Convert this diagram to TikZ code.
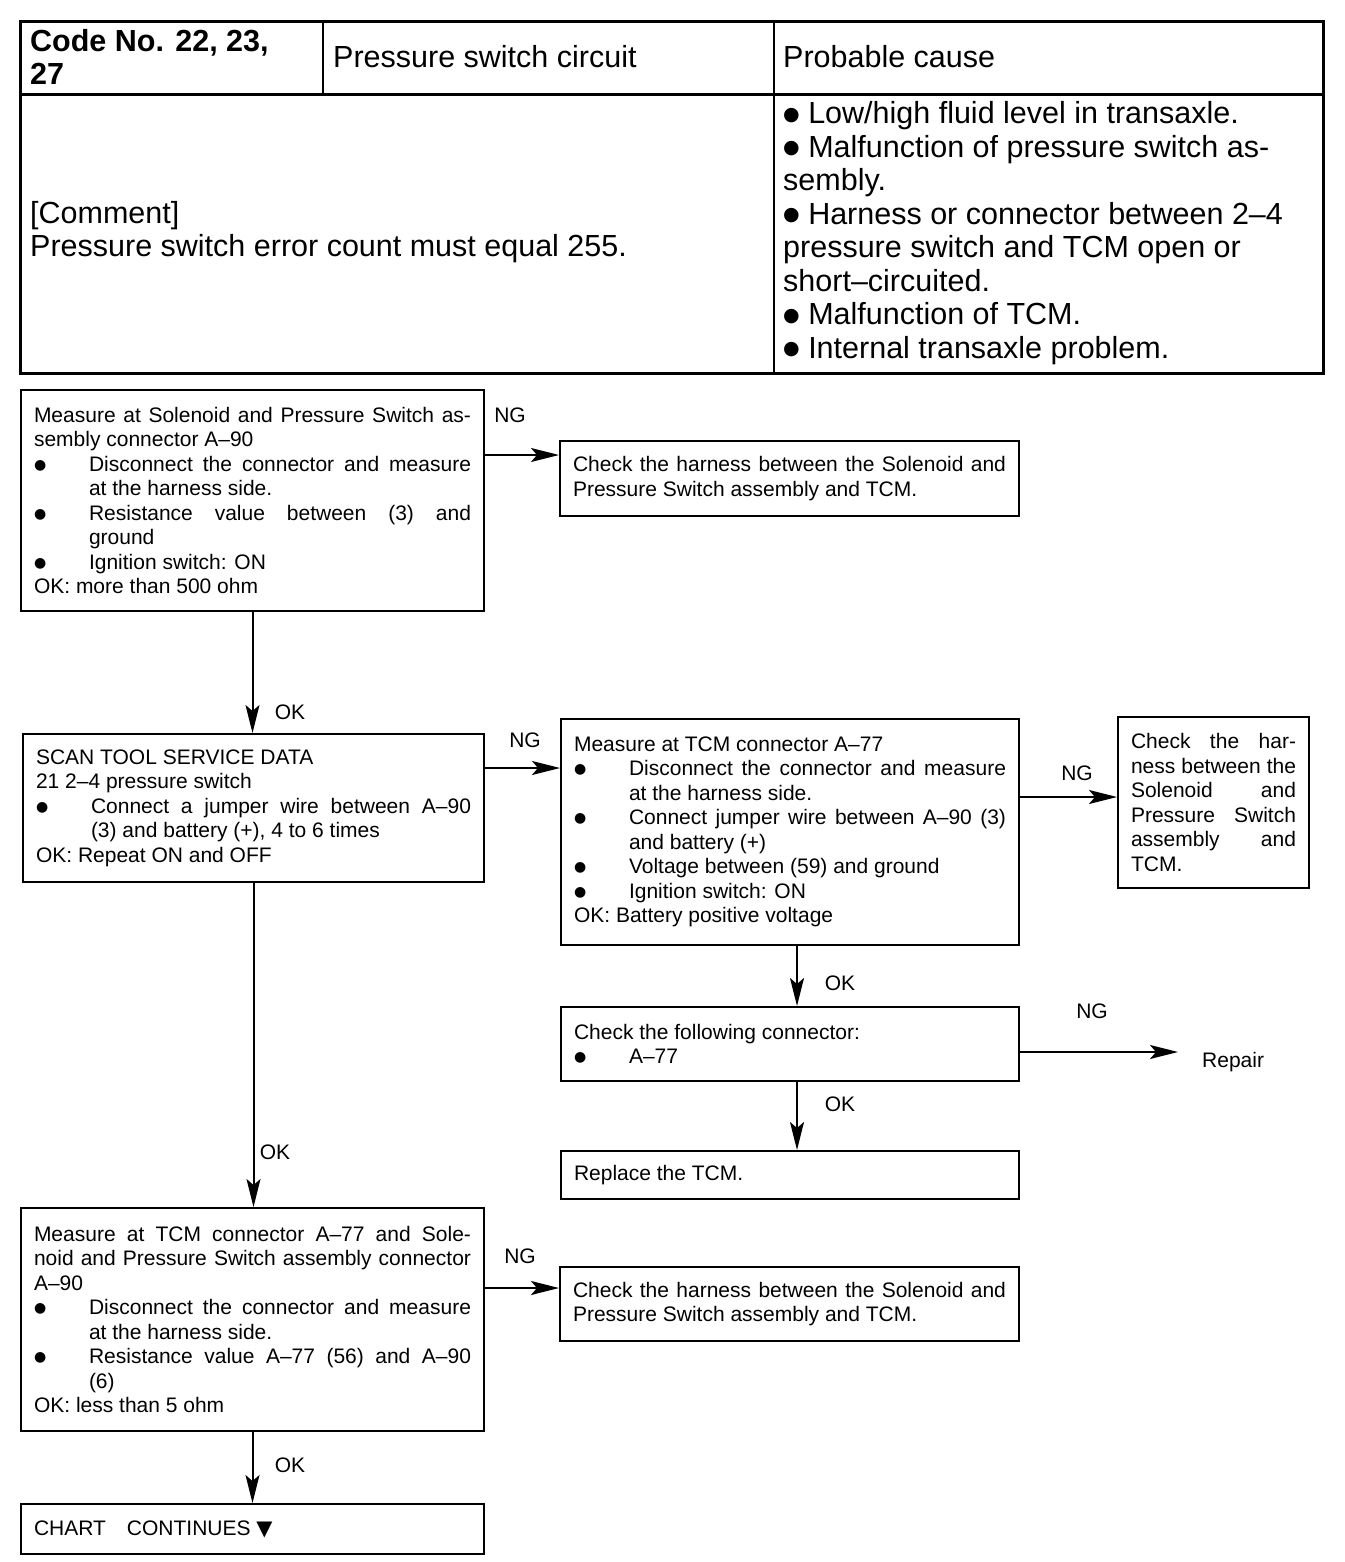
\documentclass[tikz,border=0pt]{standalone}
\usepackage{fontspec}
\setmainfont{Liberation Sans}
\newfontfamily\symfont{DejaVu Sans}
\usetikzlibrary{arrows.meta}
\setlength{\parindent}{0pt}
\hyphenpenalty=10000
\tolerance=10000

% big round bullets as in the scan
\newcommand{\bdot}{\raisebox{2pt}{\symfont\fontsize{14}{14}\selectfont ●}}
\newcommand{\tdot}{\raisebox{3.5pt}{\symfont\fontsize{19}{19}\selectfont ●}}
% bullet item with hanging indent
\newcommand{\itm}{\par\hangindent=55pt\hangafter=1\makebox[55pt][l]{\bdot}}

\tikzset{
    tbl/.style={inner sep=0pt, anchor=west, align=left, font=\fontsize{30.5}{33.5}\selectfont},
    box/.style={draw, line width=2pt, anchor=north west, inner xsep=13pt, inner ysep=3pt,
        align=justify, font=\fontsize{21}{24.5}\selectfont},
    lbl/.style={inner sep=0pt, font=\fontsize{21}{24.5}\selectfont},
    flow/.style={line width=2pt, -{Stealth[length=28pt,width=14pt,inset=6pt]}},
}

\begin{document}
\begin{tikzpicture}[x=1pt, y=-1pt]
    \useasboundingbox (0,0) rectangle (1344,1562);

    % Header table
    \draw[line width=3pt] (20,22) rectangle (1323,373);
    \draw[line width=3pt] (20,95) -- (1323,95);
    \draw[line width=2pt] (774,22) -- (774,373);
    \draw[line width=1.5pt] (323,22) -- (323,95);

    \node[tbl, font=\fontsize{30.5}{33.5}\selectfont\bfseries] (code) at (30,57) {Code No. 22, 23,\\27};
    \node[tbl] (title) at (333,57) {Pressure switch circuit};
    \node[tbl] (cause) at (783,57) {Probable cause};
    \node[tbl] (comment) at (30,232) {[Comment]\\Pressure switch error count must equal 255.};
    \node[tbl] (causes) at (783,233) {\tdot{} Low/high fluid level in transaxle.\\
        \tdot{} Malfunction of pressure switch as-\\sembly.\\
        \tdot{} Harness or connector between 2--4\\pressure switch and TCM open or\\short--circuited.\\
        \tdot{} Malfunction of TCM.\\
        \tdot{} Internal transaxle problem.};

    % Flow chart boxes
    \node[box, text width=437pt, minimum height=221pt] (A) at (20,389) {Measure at Solenoid and Pressure Switch as-\linebreak sembly connector A--90
        \itm Disconnect the connector and measure\linebreak at the harness side.
        \itm Resistance value between (3) and\linebreak ground
        \itm Ignition switch: ON
        \par OK: more than 500 ohm};
    \node[box, text width=433pt, minimum height=75pt] (B) at (559,440) {Check the harness between the Solenoid and\linebreak Pressure Switch assembly and TCM.};
    \node[box, text width=435pt, minimum height=148pt] (C) at (22,733) {SCAN TOOL SERVICE DATA
        \par 21 2--4 pressure switch
        \itm Connect a jumper wire between A--90\linebreak (3) and battery (+), 4 to 6 times
        \par OK: Repeat ON and OFF};
    \node[box, text width=432pt, minimum height=226pt] (D) at (560,718) {Measure at TCM connector A--77
        \itm Disconnect the connector and measure\linebreak at the harness side.
        \itm Connect jumper wire between A--90 (3)\linebreak and battery (+)
        \itm Voltage between (59) and ground
        \itm Ignition switch: ON
        \par OK: Battery positive voltage};
    \node[box, text width=165pt, minimum height=171pt] (E) at (1117,716) {Check the har-\linebreak ness between the\linebreak Solenoid and\linebreak Pressure Switch\linebreak assembly and\linebreak TCM.};
    \node[box, text width=432pt, minimum height=74pt] (F) at (560,1006) {Check the following connector:
        \itm A--77};
    \node[box, text width=432pt, minimum height=48pt] (G) at (560,1150) {Replace the TCM.};
    \node[box, text width=437pt, minimum height=223pt] (H) at (20,1207) {Measure at TCM connector A--77 and Sole-\linebreak noid and Pressure Switch assembly connector\linebreak A--90
        \itm Disconnect the connector and measure\linebreak at the harness side.
        \itm Resistance value A--77 (56) and A--90\linebreak (6)
        \par OK: less than 5 ohm};
    \node[box, text width=433pt, minimum height=74pt] (I) at (559,1266) {Check the harness between the Solenoid and\linebreak Pressure Switch assembly and TCM.};
    \node[box, text width=437pt, minimum height=50pt] (J) at (20,1503) {CHART\quad CONTINUES {\symfont ▼}};
    \node[lbl, anchor=west, inner xsep=24pt] (repair) at (1178,1062) {Repair};

    % Connectors
    \draw[flow] (A.east |- 0,455) -- (B.west |- 0,455);
    \draw[flow] (A.south) -- (A.south |- C.north);
    \draw[flow] (C.east |- 0,768) -- (D.west |- 0,768);
    \draw[flow] (D.east |- 0,797) -- (E.west |- 0,797);
    \draw[flow] (D.south -| 797,0) -- (F.north -| 797,0);
    \draw[flow] (F.east |- 0,1052) -- (repair.west |- 0,1052);
    \draw[flow] (F.south -| 797,0) -- (G.north -| 797,0);
    \draw[flow] (C.south) -- (C.south |- H.north);
    \draw[flow] (H.east |- 0,1288) -- (I.west |- 0,1288);
    \draw[flow] (H.south) -- (H.south |- J.north);

    % Branch labels
    \node[lbl] (ng1) at (510,415) {NG};
    \node[lbl] (ng2) at (525,740) {NG};
    \node[lbl] (ng3) at (1077,773) {NG};
    \node[lbl] (ng4) at (1092,1011) {NG};
    \node[lbl] (ng5) at (520,1256) {NG};
    \node[lbl] (ok1) at (290,712) {OK};
    \node[lbl] (ok2) at (840,983) {OK};
    \node[lbl] (ok3) at (840,1104) {OK};
    \node[lbl] (ok4) at (275,1152) {OK};
    \node[lbl] (ok5) at (290,1465) {OK};
\end{tikzpicture}
\end{document}
